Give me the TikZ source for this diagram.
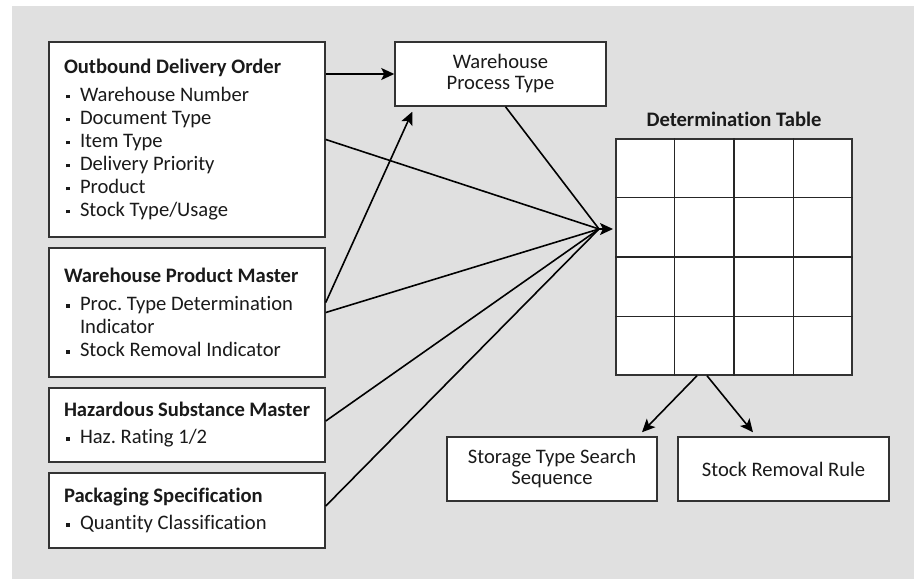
\documentclass[tikz,border=0pt]{standalone}
\usepackage{fontspec}
\setmainfont{Carlito}[RawFeature=-liga]
\usepackage{xcolor}
\usetikzlibrary{arrows.meta,positioning,calc}
\definecolor{panel}{HTML}{E0E0E0}
\definecolor{ink}{HTML}{1A1A1A}
\newcommand{\itm}{\makebox[16pt][l]{\hspace{2pt}\rule[3pt]{3.5pt}{3.5pt}}}
\frenchspacing

\begin{document}
\begin{tikzpicture}[
  x=1pt, y=-1pt,
  font=\fontsize{20.6}{23}\selectfont, text=ink,
  srcbox/.style={draw=black!80, line width=1.5pt, fill=white, align=flush left, text width=246pt, inner xsep=15pt, inner ysep=0pt, minimum width=276pt},
  box/.style={draw=black!80, line width=1.5pt, fill=white, align=center, inner sep=0pt, minimum height=64pt, font=\fontsize{20.6}{21}\selectfont},
  line/.style={line width=1.6pt},
  arrow/.style={line, -{Stealth[length=13pt,width=12pt,inset=3pt]}}
]
\useasboundingbox (0,0) rectangle (914,579);
\fill[panel] (12,6) rectangle (914,579);

% source objects
\node[srcbox, minimum height=195pt] (odo) at (187,139.5) {\textbf{Outbound Delivery Order}\\[5pt]
  \itm Warehouse Number\\ \itm Document Type\\ \itm Item Type\\ \itm Delivery Priority\\ \itm Product\\ \itm Stock Type/Usage};
\node[srcbox, minimum height=129pt] (wpm) at (187,312.5) {\textbf{Warehouse Product Master}\\[5pt]
  \itm Proc. Type Determination\\ \hspace*{16pt}Indicator\\ \itm Stock Removal Indicator};
\node[srcbox, minimum height=74pt] (haz) at (187,425) {\textbf{Hazardous Substance Master}\\[4pt] \itm Haz. Rating 1/2};
\node[srcbox, minimum height=75pt] (pks) at (187,510.5) {\textbf{Packaging Specification}\\[4pt] \itm Quantity Classification};

\node[box, minimum width=211pt] (wpt) at (500.5,74) {Warehouse\\Process Type};

% determination table
\node[draw=black!80, line width=1.5pt, fill=white, minimum size=236pt, inner sep=0pt] (dtab) at (734,257) {};
\foreach \i in {1,2,3} {
  \draw[line width=1.5pt, black!85] ($(dtab.north west)!\i/4!(dtab.north east)$) -- ($(dtab.south west)!\i/4!(dtab.south east)$);
  \draw[line width=1.5pt, black!85] ($(dtab.north west)!\i/4!(dtab.south west)$) -- ($(dtab.north east)!\i/4!(dtab.south east)$);
}
\node[font=\fontsize{20.6}{23}\selectfont\bfseries, anchor=base] (dtitle) at (734,126) {Determination Table};

\node[box, minimum width=210pt] (stss) at (552,469) {Storage Type Search\\Sequence};
\node[box, minimum width=211pt] (srr) at (783.5,469) {Stock Removal Rule};

% connectors
\coordinate (conv) at (599,229);
\coordinate (tip) at (613,229);
\coordinate (wpt-out) at ([xshift=5pt]wpt.south);
\coordinate (haz-out) at ([yshift=4pt]haz.east);
\coordinate (pks-out) at ([yshift=4.5pt]pks.east);
\draw[arrow] (wpt.west -| odo.east) -- (wpt.west);
\draw[arrow] ([yshift=10pt]wpm.east) -- ([xshift=18pt,yshift=-5pt]wpt.south west);
\foreach \s in {odo.east, wpt-out, wpm.east, haz-out, pks-out}
  \draw[line] (\s) -- (conv);
\draw[arrow] (conv) -- (tip);
\draw[arrow] ([xshift=-37pt]dtab.south) -- ([xshift=90pt,yshift=4pt]stss.north);
\draw[arrow] ([xshift=-27pt]dtab.south) -- ([xshift=-30.5pt,yshift=4pt]srr.north);
\end{tikzpicture}
\end{document}
